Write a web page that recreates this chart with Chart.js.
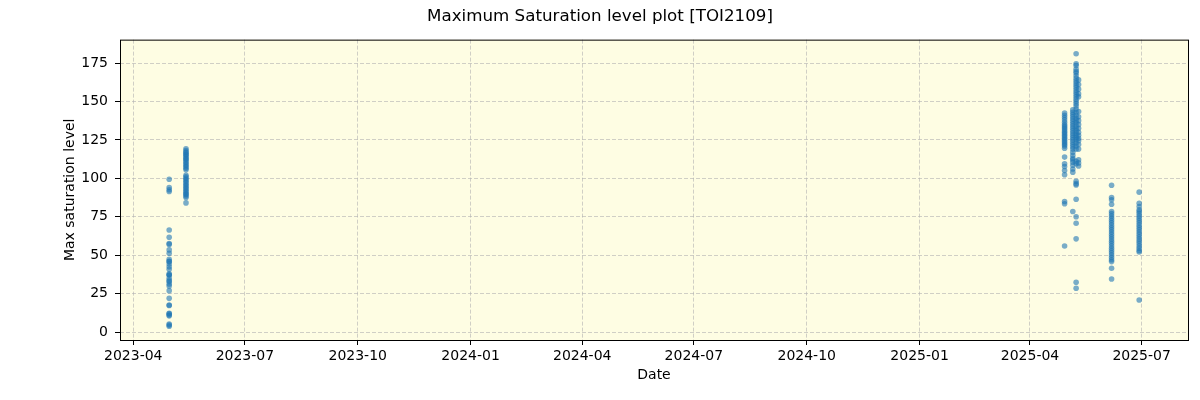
<!DOCTYPE html>
<html>
<head>
<meta charset="utf-8">
<script src="https://cdn.jsdelivr.net/npm/chart.js@4"></script>
<style>
  body { margin: 0; background: #fff; }
  #wrap { width: 1200px; height: 400px; }
</style>
</head>
<body>
<div id="wrap"><canvas id="satChart" width="1200" height="400"></canvas></div>
<script>
// x values are days since 2023-04-01
const tickDays = [0, 91, 183, 275, 366, 457, 549, 641, 731, 822];
const tickLabels = ["2023-04", "2023-07", "2023-10", "2024-01", "2024-04", "2024-07", "2024-10", "2025-01", "2025-04", "2025-07"];
const yTicks = [0, 25, 50, 75, 100, 125, 150, 175];

// one observing night per group
const groupDays = [29.3, 43.0, 759.2, 765.9, 768.6, 770.6, 797.5, 820.0];
const group1 = [99.4, 94.0, 92.5, 91.4, 66.4, 61.6, 57.5, 57.0, 53.4, 51.2, 47.3, 46.0, 45.8, 44.3, 42.5, 40.8, 37.8, 37.2, 36.9, 35.0, 33.5, 32.8, 31.3, 30.0, 26.9, 21.9, 17.6, 17.2, 12.2, 11.8, 11.1, 10.5, 5.2, 4.5, 3.7];
const group2 = [119.2, 118, 117, 116.5, 115.5, 115, 114, 113, 112.5, 111.5, 110.5, 109.5, 108.5, 107.5, 106.5, 105.5, 102, 101, 100, 99, 98, 97, 96, 95, 94, 93, 92, 91, 90, 89.5, 88.5, 87.5, 84];
const group3 = [142.4, 141, 139.5, 138, 136.5, 135, 134, 133, 132, 131, 130, 129, 128, 127, 126, 125, 124, 123, 122, 121, 119.6, 113.8, 109.4, 107.7, 105, 102.3, 84.9, 83.4, 56];
const group4 = [144.5, 143, 141.5, 140, 138.5, 137, 135.5, 134, 132.5, 131, 129.5, 128, 126.5, 125, 123.5, 122, 120.5, 119, 117, 115, 113, 112, 110.5, 108.5, 106, 104, 78.4];
const group5 = [181, 174.5, 173.3, 171, 169.5, 168.5, 166.7, 165, 163.5, 162, 160.5, 159, 157.5, 156, 154.5, 153, 151.5, 150, 148.5, 147, 145, 143, 141, 139, 137.5, 136, 134, 132.5, 131, 129.5, 128, 126.5, 125, 123, 121, 119, 111, 109.5, 98, 96.5, 95.7, 86.4, 75, 70.8, 60.6, 32.4, 28.5];
const group6 = [164, 161, 158, 155, 153, 143.5, 140, 137.5, 135, 132.5, 130, 128, 126, 124.5, 122, 119, 112, 110, 108];
const group7 = [95.5, 87.5, 86, 83.1, 78.4, 77, 75.5, 74, 72.5, 71, 69.5, 68, 66.5, 65, 63.5, 62, 60.5, 59, 57.5, 56, 54.5, 53, 51.5, 50, 48.5, 47, 45.8, 41.5, 34.5];
const group8 = [91, 83.8, 81.6, 79.5, 78.4, 77, 75.5, 74, 72.5, 71, 69.5, 68, 66.5, 65, 63.5, 62, 60.5, 59, 57.5, 56, 54.5, 53, 52, 20.8];

const groups = [group1, group2, group3, group4, group5, group6, group7, group8];
let points = [];
groups.forEach((vals, i) => {
  vals.forEach(v => points.push({ x: groupDays[i], y: v }));
});

const FONT = "'DejaVu Sans', sans-serif";

// pale yellow plot background and full frame
const frame = {
  id: "frame",
  beforeDraw(chart) {
    const a = chart.chartArea, ctx = chart.ctx;
    ctx.save();
    ctx.fillStyle = "#fefde3";
    ctx.fillRect(a.left, a.top, a.right - a.left, a.bottom - a.top);
    ctx.restore();
  },
  afterDraw(chart) {
    const a = chart.chartArea, ctx = chart.ctx;
    ctx.save();
    ctx.strokeStyle = "#000";
    ctx.lineWidth = 1;
    ctx.strokeRect(a.left + 0.5, a.top + 0.5, a.right - a.left, a.bottom - a.top);
    ctx.restore();
  }
};

new Chart(document.getElementById("satChart"), {
  type: "scatter",
  data: {
    datasets: [{
      data: points,
      backgroundColor: "rgba(31,119,180,0.6)",
      borderWidth: 0,
      pointRadius: 2.8,
      pointHoverRadius: 2.8
    }]
  },
  options: {
    responsive: false,
    animation: false,
    layout: { padding: 0 },
    plugins: {
      legend: { display: false },
      tooltip: { enabled: false },
      title: {
        display: true,
        text: "Maximum Saturation level plot [TOI2109]",
        color: "#000",
        font: { family: FONT, size: 16.7, weight: "normal", lineHeight: 1.2 },
        padding: { top: 7, bottom: 12.6 }
      }
    },
    scales: {
      x: {
        type: "linear",
        min: -10.8,
        max: 859.8,
        afterBuildTicks: s => { s.ticks = tickDays.map(v => ({ value: v })); },
        afterFit: s => { s.height = 60; },
        ticks: {
          autoSkip: false,
          maxRotation: 0,
          color: "#000",
          padding: 3,
          font: { family: FONT, size: 14 },
          callback: (v, i) => tickLabels[i]
        },
        grid: {
          color: "rgba(176,176,176,0.6)",
          lineWidth: 1,
          tickColor: "#000",
          tickLength: 5
        },
        border: { display: false, dash: [4, 2] },
        title: {
          display: true,
          text: "Date",
          color: "#000",
          font: { family: FONT, size: 14, lineHeight: 1.2 },
          padding: { top: 0, bottom: 16 }
        }
      },
      y: {
        min: -5.2,
        max: 190.2,
        afterBuildTicks: s => { s.ticks = yTicks.map(v => ({ value: v })); },
        afterFit: s => { s.width = 120; },
        ticks: {
          color: "#000",
          padding: 7,
          font: { family: FONT, size: 14 }
        },
        grid: {
          color: "rgba(176,176,176,0.6)",
          lineWidth: 1,
          tickColor: "#000",
          tickLength: 5
        },
        border: { display: false, dash: [4, 2] },
        title: {
          display: true,
          text: "Max saturation level",
          color: "#000",
          font: { family: FONT, size: 14, lineHeight: 1.2 },
          padding: { top: 61.5, bottom: 0 }
        }
      },
      // empty right-hand axis that only reserves the right margin
      yRight: {
        position: "right",
        display: true,
        afterFit: s => { s.width = 12; },
        ticks: { display: false },
        grid: { display: false },
        border: { display: false }
      }
    }
  },
  plugins: [frame]
});
</script>
</body>
</html>
